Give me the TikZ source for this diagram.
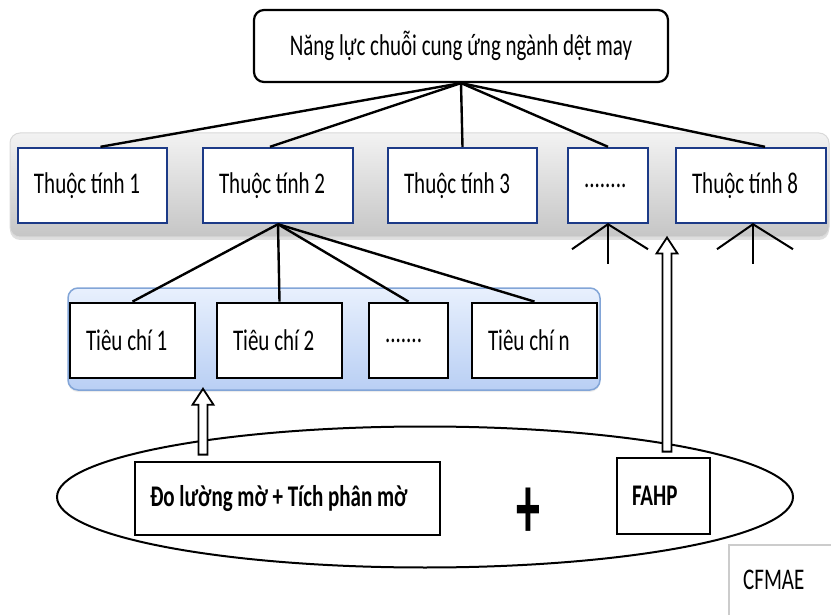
\documentclass[tikz,border=0pt]{standalone}
\usepackage{fontspec}
\usepackage{graphicx}
\setmainfont{Carlito}[FakeStretch=0.7]
\newfontfamily\plusfont{Carlito}
\usetikzlibrary{calc,shadows,shapes.geometric}
\definecolor{navy}{RGB}{28,58,135}
\definecolor{cbline}{RGB}{130,165,215}
\definecolor{cbtop}{RGB}{232,240,253}
\definecolor{cbbot}{RGB}{185,207,244}
\newcommand\harrow[2]{%
  \draw[hollow] ($(#1)+(-4.5,0)$) -- ($(#2)+(-4.5,16)$) -- ($(#2)+(-10.5,16)$) -- (#2)
    -- ($(#2)+(10.5,16)$) -- ($(#2)+(4.5,16)$) -- ($(#1)+(4.5,0)$) -- cycle;}
\begin{document}
\begin{tikzpicture}[x=1pt,y=-1pt,
  font=\fontsize{30}{32}\selectfont,
  every node/.append style={execute at begin node={\spaceskip=0pt\xspaceskip=0pt}},
  gband/.style={rectangle, rounded corners=10, draw=gray!30, line width=1,
    top color=gray!10, bottom color=gray!45, minimum width=819, minimum height=104,
    drop shadow={shadow xshift=0pt, shadow yshift=-3pt, opacity=0.25}},
  cbandst/.style={rectangle, rounded corners=10, draw=cbline, line width=1.5,
    top color=cbtop, bottom color=cbbot, minimum width=532, minimum height=102,
    drop shadow={shadow xshift=0pt, shadow yshift=-2pt, opacity=0.15}},
  topbox/.style={rectangle, rounded corners=10, draw, line width=2.2, fill=white,
    minimum width=414, minimum height=72, align=center},
  abox/.style={rectangle, draw=navy, line width=2.4, fill=white, minimum height=75,
    inner xsep=16, align=flush left},
  cbox/.style={rectangle, draw, line width=2.8, fill=white, minimum height=75,
    inner xsep=16, align=flush left},
  mbox/.style={rectangle, draw, line width=2.8, fill=white, inner xsep=15, align=flush left,
    font=\fontsize{30}{32}\selectfont\bfseries},
  conn/.style={line width=2.4},
  vee/.style={line width=2},
  hollow/.style={draw, fill=white, line width=1.8, line join=miter},
  cfline/.style={draw=gray!40, line width=1.2}]
\useasboundingbox (0,0) rectangle (831,615);

% bands
\node[gband] (gb) at (419.5,185) {};
\node[cbandst] (cb) at (334,339) {};

% top
\node[topbox] (top) at (461,46) {Năng lực chuỗi cung ứng ngành dệt may};

% attributes
\node[abox, text width=117] (a1) at (92.5,185.5) {Thuộc tính 1};
\node[abox, text width=118] (a2) at (278,185.5) {Thuộc tính 2};
\node[abox, text width=117] (a3) at (462.5,185.5) {Thuộc tính 3};
\node[abox, text width=48] (a4) at (608,185.5) {........};
\node[abox, text width=118] (a8) at (751,185.5) {Thuộc tính 8};

% criteria
\node[cbox, text width=93] (c1) at (132.5,340.5) {Tiêu chí 1};
\node[cbox, text width=93] (c2) at (279.5,340.5) {Tiêu chí 2};
\node[cbox, text width=47] (c3) at (408.5,340.5) {.......};
\node[cbox, text width=93] (cn) at (534.5,340.5) {Tiêu chí n};

% connectors top -> attributes
\draw[conn] (top.south) -- ($(a1.north)+(8,0)$);
\draw[conn] (top.south) -- ($(a2.north)+(-8,0)$);
\draw[conn] (top.south) -- (a3.north);
\draw[conn] (top.south) -- (a4.north);
\draw[conn] (top.south) -- ($(a8.north)+(14,0)$);

% attribute 2 -> criteria
\draw[conn] (a2.south) -- (c1.north);
\draw[conn] (a2.south) -- (c2.north);
\draw[conn] (a2.south) -- (c3.north);
\draw[conn] (a2.south) -- (cn.north);

% vee marks under attributes
\coordinate (p4) at (a4.south);
\coordinate (p4l) at ($(p4)+(-36,25)$);
\coordinate (p4r) at ($(p4)+(40,25)$);
\coordinate (p4d) at ($(p4)+(0,40)$);
\draw[vee] (p4l) -- (p4) -- (p4r);
\draw[vee] (p4) -- (p4d);
\coordinate (p8) at ($(a8.south)+(2,0)$);
\coordinate (p8l) at ($(p8)+(-36,25)$);
\coordinate (p8r) at ($(p8)+(40,25)$);
\coordinate (p8d) at ($(p8)+(0,40)$);
\draw[vee] (p8l) -- (p8) -- (p8r);
\draw[vee] (p8) -- (p8d);

% bottom ellipse
\node[ellipse, draw, line width=2, minimum width=736, minimum height=141] (ell) at (425,497) {};
\node[mbox, text width=275, minimum height=73] (dl) at (287.5,498.5) {Đo lường mờ + Tích phân mờ};
\node[mbox, text width=63, minimum height=76] (fahp) at (663.5,496) {FAHP};
\node (plus) at (528,513) {\plusfont\scalebox{1.0}[1.9]{\fontsize{48}{48}\selectfont\bfseries +}};

% hollow arrows
\coordinate (h1b) at ($(dl.north)+(-84.5,-6)$);
\coordinate (h1x) at (h1b |- cb.south);
\coordinate (h1t) at ($(h1x)+(0,-2)$);
\harrow{h1b}{h1t}
\coordinate (h2b) at ($(fahp.north)+(3.5,-5)$);
\coordinate (h2t) at (h2b |- gb.south);
\harrow{h2b}{h2t}

% CFMAE
\node[anchor=north west, minimum height=70, text width=74, inner xsep=14, align=flush left] (cf) at (729,545) {CFMAE};
\draw[cfline] (cf.south west) -- (cf.north west) -- (cf.north east);
\end{tikzpicture}
\end{document}
